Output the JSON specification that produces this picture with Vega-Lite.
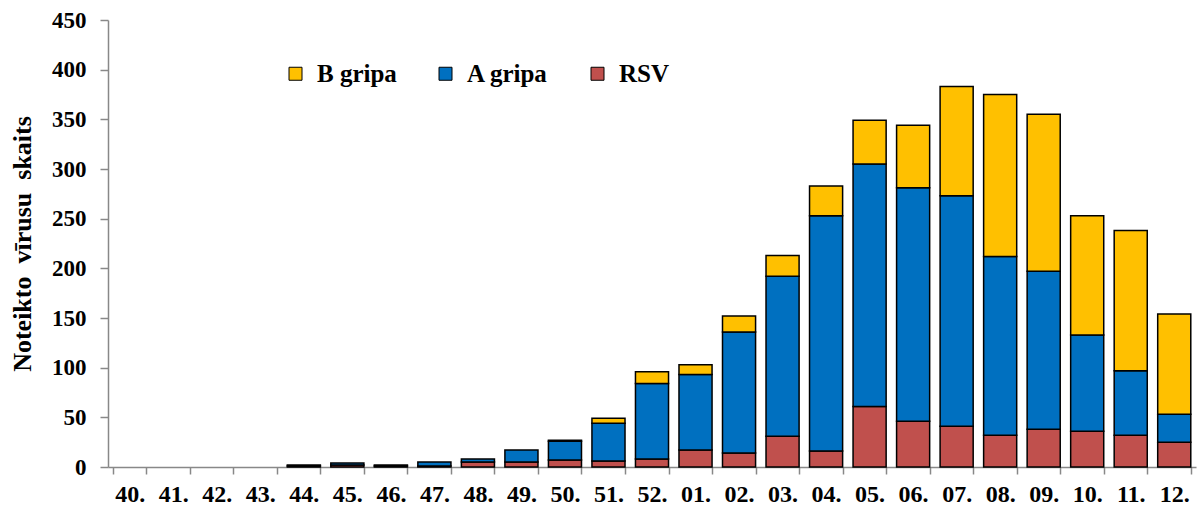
{
  "$schema": "https://vega.github.io/schema/vega-lite/v6.json",
  "width": 1088,
  "height": 447,
  "autosize": {"type": "none"},
  "padding": {"left": 108, "top": 20, "right": 1, "bottom": 42},
  "background": "white",
  "config": {
    "view": {"stroke": null},
    "font": "Liberation Serif"
  },
  "data": {
    "values": [
      {"week": "40.", "type": "RSV", "count": 0},
      {"week": "41.", "type": "RSV", "count": 0},
      {"week": "42.", "type": "RSV", "count": 0},
      {"week": "43.", "type": "RSV", "count": 0},
      {"week": "44.", "type": "RSV", "count": 1},
      {"week": "44.", "type": "A gripa", "count": 1},
      {"week": "45.", "type": "RSV", "count": 2},
      {"week": "45.", "type": "A gripa", "count": 2},
      {"week": "46.", "type": "RSV", "count": 1},
      {"week": "46.", "type": "A gripa", "count": 1},
      {"week": "47.", "type": "RSV", "count": 1},
      {"week": "47.", "type": "A gripa", "count": 4},
      {"week": "48.", "type": "RSV", "count": 5},
      {"week": "48.", "type": "A gripa", "count": 3},
      {"week": "49.", "type": "RSV", "count": 5},
      {"week": "49.", "type": "A gripa", "count": 12},
      {"week": "50.", "type": "RSV", "count": 7},
      {"week": "50.", "type": "A gripa", "count": 19},
      {"week": "50.", "type": "B gripa", "count": 1},
      {"week": "51.", "type": "RSV", "count": 6},
      {"week": "51.", "type": "A gripa", "count": 38},
      {"week": "51.", "type": "B gripa", "count": 5},
      {"week": "52.", "type": "RSV", "count": 8},
      {"week": "52.", "type": "A gripa", "count": 76},
      {"week": "52.", "type": "B gripa", "count": 12},
      {"week": "01.", "type": "RSV", "count": 17},
      {"week": "01.", "type": "A gripa", "count": 76},
      {"week": "01.", "type": "B gripa", "count": 10},
      {"week": "02.", "type": "RSV", "count": 14},
      {"week": "02.", "type": "A gripa", "count": 122},
      {"week": "02.", "type": "B gripa", "count": 16},
      {"week": "03.", "type": "RSV", "count": 31},
      {"week": "03.", "type": "A gripa", "count": 161},
      {"week": "03.", "type": "B gripa", "count": 21},
      {"week": "04.", "type": "RSV", "count": 16},
      {"week": "04.", "type": "A gripa", "count": 237},
      {"week": "04.", "type": "B gripa", "count": 30},
      {"week": "05.", "type": "RSV", "count": 61},
      {"week": "05.", "type": "A gripa", "count": 244},
      {"week": "05.", "type": "B gripa", "count": 44},
      {"week": "06.", "type": "RSV", "count": 46},
      {"week": "06.", "type": "A gripa", "count": 235},
      {"week": "06.", "type": "B gripa", "count": 63},
      {"week": "07.", "type": "RSV", "count": 41},
      {"week": "07.", "type": "A gripa", "count": 232},
      {"week": "07.", "type": "B gripa", "count": 110},
      {"week": "08.", "type": "RSV", "count": 32},
      {"week": "08.", "type": "A gripa", "count": 180},
      {"week": "08.", "type": "B gripa", "count": 163},
      {"week": "09.", "type": "RSV", "count": 38},
      {"week": "09.", "type": "A gripa", "count": 159},
      {"week": "09.", "type": "B gripa", "count": 158},
      {"week": "10.", "type": "RSV", "count": 36},
      {"week": "10.", "type": "A gripa", "count": 97},
      {"week": "10.", "type": "B gripa", "count": 120},
      {"week": "11.", "type": "RSV", "count": 32},
      {"week": "11.", "type": "A gripa", "count": 65},
      {"week": "11.", "type": "B gripa", "count": 141},
      {"week": "12.", "type": "RSV", "count": 25},
      {"week": "12.", "type": "A gripa", "count": 28},
      {"week": "12.", "type": "B gripa", "count": 101}
    ]
  },
  "transform": [
    {"calculate": "indexof(['RSV','A gripa','B gripa'], datum.type)", "as": "stackOrder"}
  ],
  "mark": {"type": "bar", "stroke": "black", "strokeWidth": 1.5},
  "encoding": {
    "x": {
      "field": "week",
      "type": "nominal",
      "sort": null,
      "scale": {"paddingInner": 0.24, "paddingOuter": 0.12},
      "axis": {
        "title": null,
        "labelAngle": 0,
        "labelFont": "Liberation Serif",
        "labelFontWeight": "bold",
        "labelFontSize": 24,
        "labelColor": "black",
        "labelPadding": 8,
        "domainColor": "#888888",
        "tickColor": "#888888",
        "tickSize": 7,
        "tickBand": "extent",
        "domainWidth": 1.5,
        "tickWidth": 1.5
      }
    },
    "y": {
      "field": "count",
      "type": "quantitative",
      "stack": "zero",
      "scale": {"domain": [0, 450], "nice": false},
      "axis": {
        "title": "Noteikto\u00a0\u00a0vīrusu\u00a0\u00a0skaits",
        "titleFont": "Liberation Serif",
        "titleFontWeight": "bold",
        "titleFontSize": 26,
        "titleColor": "black",
        "titlePadding": 16,
        "values": [0, 50, 100, 150, 200, 250, 300, 350, 400, 450],
        "grid": false,
        "labelFont": "Liberation Serif",
        "labelFontWeight": "bold",
        "labelFontSize": 23,
        "labelColor": "black",
        "labelPadding": 14,
        "domainColor": "#888888",
        "tickColor": "#888888",
        "tickSize": 8,
        "domainWidth": 1.5,
        "tickWidth": 1.5
      }
    },
    "color": {
      "field": "type",
      "type": "nominal",
      "scale": {
        "domain": ["B gripa", "A gripa", "RSV"],
        "range": ["#FFC000", "#0070C0", "#C0504D"]
      },
      "legend": {
        "title": null,
        "orient": "none",
        "legendX": 175,
        "legendY": 41,
        "direction": "horizontal",
        "columns": 3,
        "padding": 0,
        "symbolType": "square",
        "symbolSize": 169,
        "symbolStrokeColor": "black",
        "symbolStrokeWidth": 1,
        "symbolOpacity": 1,
        "labelFont": "Liberation Serif",
        "labelFontWeight": "bold",
        "labelFontSize": 25,
        "labelColor": "black",
        "labelOffset": 9,
        "columnPadding": 36,
        "labelLimit": 300,
        "labelExpr": "datum.label == 'RSV' ? 'RSV' : '\u00a0\u00a0' + datum.label"
      }
    },
    "strokeOpacity": {
      "condition": {"test": "datum.count == 0", "value": 0},
      "value": 1
    },
    "order": {"field": "stackOrder", "type": "quantitative"}
  }
}
